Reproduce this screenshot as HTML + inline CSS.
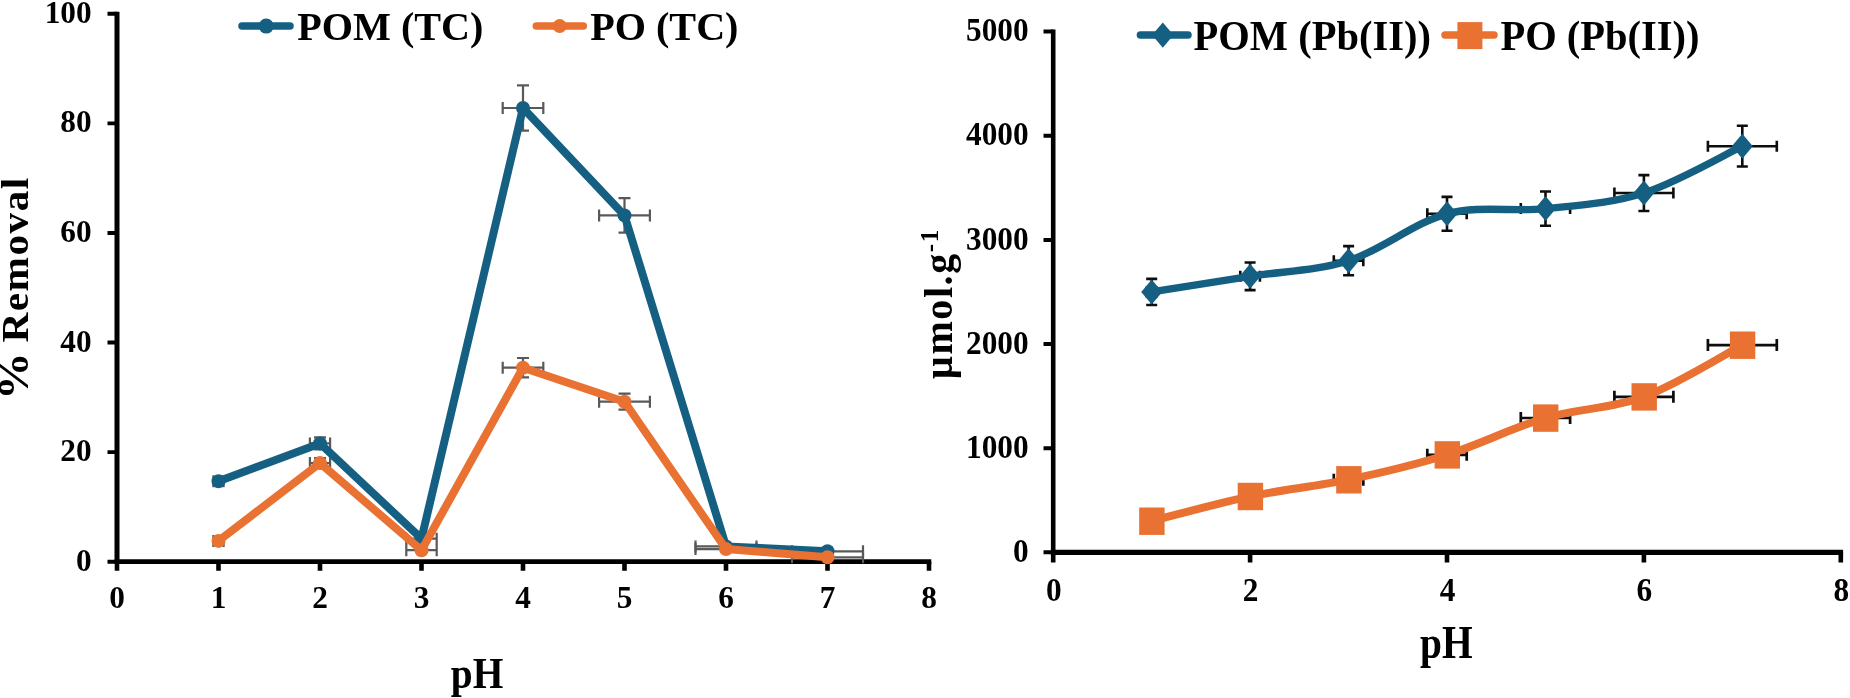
<!DOCTYPE html>
<html lang="en"><head><meta charset="utf-8"><title>Effect of pH</title>
<style>
html,body{margin:0;padding:0;background:#fff;}
body{width:1850px;height:698px;overflow:hidden;}
svg{display:block;filter:blur(0.4px);}
text{font-family:"Liberation Serif","Times New Roman",serif;font-weight:bold;fill:#000;}
.tk{font-size:31.3px;}
.lgL{font-size:40.15px;}
.lgR{font-size:40.5px;}
.ttl{font-size:39.4px;}
</style></head><body>
<svg width="1850" height="698" viewBox="0 0 1850 698">
<rect width="1850" height="698" fill="#fff"/>
<g id="left">
<path d="M117.0 11.8V564.1" stroke="#000" stroke-width="5" fill="none"/>
<path d="M114.7 561.7H931.3" stroke="#000" stroke-width="4.8" fill="none"/>
<path d="M107.5 561.7H117.0M107.5 452.1H117.0M107.5 342.5H117.0M107.5 233.0H117.0M107.5 123.4H117.0M107.5 13.8H117.0" stroke="#000" stroke-width="3.9" fill="none"/>
<path d="M117.0 561.7V570.8M218.5 561.7V570.8M320.0 561.7V570.8M421.5 561.7V570.8M523.0 561.7V570.8M624.5 561.7V570.8M726.0 561.7V570.8M827.5 561.7V570.8M929.0 561.7V570.8" stroke="#000" stroke-width="4.6" fill="none"/>
<path d="M213.4 481.2H223.6M213.4 475.2V487.2M223.6 475.2V487.2M218.5 477.1V485.2M212.5 477.1H224.5M212.5 485.2H224.5M309.9 443.4H330.1M309.9 437.4V449.4M330.1 437.4V449.4M320.0 437.4V449.3M314.0 437.4H326.0M314.0 449.3H326.0M406.3 538.7H436.7M406.3 532.7V544.7M436.7 532.7V544.7M421.5 537.5V539.8M415.5 537.5H427.5M415.5 539.8H427.5M502.7 108.0H543.3M502.7 102.0V114.0M543.3 102.0V114.0M523.0 85.4V130.7M517.0 85.4H529.0M517.0 130.7H529.0M599.1 215.4H649.9M599.1 209.4V221.4M649.9 209.4V221.4M624.5 198.1V232.7M618.5 198.1H630.5M618.5 232.7H630.5M695.5 546.4H756.5M695.5 540.4V552.4M756.5 540.4V552.4M726.0 545.6V547.1M720.0 545.6H732.0M720.0 547.1H732.0M792.0 551.3H863.0M792.0 545.3V557.3M863.0 545.3V557.3M827.5 550.8V551.8M821.5 550.8H833.5M821.5 551.8H833.5" fill="none" stroke="#595959" stroke-width="2.2"/>
<path d="M213.4 540.9H223.6M213.4 534.9V546.9M223.6 534.9V546.9M218.5 539.8V541.9M212.5 539.8H224.5M212.5 541.9H224.5M309.9 463.1H330.1M309.9 457.1V469.1M330.1 457.1V469.1M320.0 458.1V468.0M314.0 458.1H326.0M314.0 468.0H326.0M406.3 550.2H436.7M406.3 544.2V556.2M436.7 544.2V556.2M421.5 549.6V550.8M415.5 549.6H427.5M415.5 550.8H427.5M502.7 367.7H543.3M502.7 361.7V373.7M543.3 361.7V373.7M523.0 358.0V377.4M517.0 358.0H529.0M517.0 377.4H529.0M599.1 401.7H649.9M599.1 395.7V407.7M649.9 395.7V407.7M624.5 393.7V409.7M618.5 393.7H630.5M618.5 409.7H630.5M695.5 549.1H756.5M695.5 543.1V555.1M756.5 543.1V555.1M726.0 548.5V549.7M720.0 548.5H732.0M720.0 549.7H732.0M792.0 557.3H863.0M792.0 551.3V563.3M863.0 551.3V563.3M827.5 557.1V557.5M821.5 557.1H833.5M821.5 557.5H833.5" fill="none" stroke="#595959" stroke-width="2.2"/>
<path d="M218.5 481.2 L320.0 443.4 L421.5 538.7 L523.0 108.0 L624.5 215.4 L726.0 546.4 L827.5 551.3" fill="none" stroke="#156082" stroke-width="8" stroke-linejoin="round" stroke-linecap="round"/>
<circle cx="218.5" cy="481.2" r="7" fill="#156082"/>
<circle cx="320.0" cy="443.4" r="7" fill="#156082"/>
<circle cx="421.5" cy="538.7" r="7" fill="#156082"/>
<circle cx="523.0" cy="108.0" r="7" fill="#156082"/>
<circle cx="624.5" cy="215.4" r="7" fill="#156082"/>
<circle cx="726.0" cy="546.4" r="7" fill="#156082"/>
<circle cx="827.5" cy="551.3" r="7" fill="#156082"/>
<path d="M218.5 540.9 L320.0 463.1 L421.5 550.2 L523.0 367.7 L624.5 401.7 L726.0 549.1 L827.5 557.3" fill="none" stroke="#E97132" stroke-width="8" stroke-linejoin="round" stroke-linecap="round"/>
<circle cx="218.5" cy="540.9" r="7" fill="#E97132"/>
<circle cx="320.0" cy="463.1" r="7" fill="#E97132"/>
<circle cx="421.5" cy="550.2" r="7" fill="#E97132"/>
<circle cx="523.0" cy="367.7" r="7" fill="#E97132"/>
<circle cx="624.5" cy="401.7" r="7" fill="#E97132"/>
<circle cx="726.0" cy="549.1" r="7" fill="#E97132"/>
<circle cx="827.5" cy="557.3" r="7" fill="#E97132"/>
<text class="tk" transform="translate(91.6 570.7) scale(1 1.03)" text-anchor="end">0</text>
<text class="tk" transform="translate(91.6 461.1) scale(1 1.03)" text-anchor="end">20</text>
<text class="tk" transform="translate(91.6 351.5) scale(1 1.03)" text-anchor="end">40</text>
<text class="tk" transform="translate(91.6 242.0) scale(1 1.03)" text-anchor="end">60</text>
<text class="tk" transform="translate(91.6 132.4) scale(1 1.03)" text-anchor="end">80</text>
<text class="tk" transform="translate(91.6 22.8) scale(1 1.03)" text-anchor="end">100</text>
<text class="tk" transform="translate(117.0 608.4) scale(1 1.03)" text-anchor="middle">0</text>
<text class="tk" transform="translate(218.5 608.4) scale(1 1.03)" text-anchor="middle">1</text>
<text class="tk" transform="translate(320.0 608.4) scale(1 1.03)" text-anchor="middle">2</text>
<text class="tk" transform="translate(421.5 608.4) scale(1 1.03)" text-anchor="middle">3</text>
<text class="tk" transform="translate(523.0 608.4) scale(1 1.03)" text-anchor="middle">4</text>
<text class="tk" transform="translate(624.5 608.4) scale(1 1.03)" text-anchor="middle">5</text>
<text class="tk" transform="translate(726.0 608.4) scale(1 1.03)" text-anchor="middle">6</text>
<text class="tk" transform="translate(827.5 608.4) scale(1 1.03)" text-anchor="middle">7</text>
<text class="tk" transform="translate(929.0 608.4) scale(1 1.03)" text-anchor="middle">8</text>
<path d="M242 26.1H290" stroke="#156082" stroke-width="7.5" stroke-linecap="round"/><circle cx="266.2" cy="26.1" r="7.5" fill="#156082"/>
<text class="lgL" transform="translate(297.3 40.2) scale(1 1.02)">POM (TC)</text>
<path d="M536.3 26.1H583.3" stroke="#E97132" stroke-width="7.5" stroke-linecap="round"/><circle cx="559.7" cy="26.1" r="7" fill="#E97132"/>
<text class="lgL" transform="translate(590.2 40.2) scale(1 1.02)">PO (TC)</text>
<text class="ttl" transform="translate(477 688.2) scale(1 1.14)" text-anchor="middle">pH</text>
<text class="ttl" transform="translate(27.6 400.1) rotate(-90) scale(1.085 1)" style="font-size:38px;letter-spacing:1.4px"><tspan style="font-size:44px">%</tspan><tspan dx="-3.2"> Removal</tspan></text>
</g>
<g id="right">
<path d="M1053.2 29.6V554.6999999999999" stroke="#000" stroke-width="4.6" fill="none"/>
<path d="M1050.9 552.3H1843.1000000000001" stroke="#000" stroke-width="5.3" fill="none"/>
<path d="M1043.5 552.3H1053.2M1043.5 448.2H1053.2M1043.5 344.0H1053.2M1043.5 239.9H1053.2M1043.5 135.7H1053.2M1043.5 31.6H1053.2" stroke="#000" stroke-width="4" fill="none"/>
<path d="M1053.2 552.3V562.6M1250.1 552.3V562.6M1447.0 552.3V562.6M1643.9 552.3V562.6M1840.8 552.3V562.6" stroke="#000" stroke-width="4.6" fill="none"/>
<path d="M1146.7 291.9H1156.6M1146.7 286.4V297.4M1156.6 286.4V297.4M1151.7 278.9V305.0M1146.2 278.9H1157.2M1146.2 305.0H1157.2M1240.3 276.3H1259.9M1240.3 270.8V281.8M1259.9 270.8V281.8M1250.1 262.5V290.1M1244.6 262.5H1255.6M1244.6 290.1H1255.6M1333.8 260.7H1363.3M1333.8 255.2V266.2M1363.3 255.2V266.2M1348.6 246.1V275.3M1343.1 246.1H1354.1M1343.1 275.3H1354.1M1427.3 213.8H1466.7M1427.3 208.3V219.3M1466.7 208.3V219.3M1447.0 196.9V230.8M1441.5 196.9H1452.5M1441.5 230.8H1452.5M1520.8 208.6H1570.1M1520.8 203.1V214.1M1570.1 203.1V214.1M1545.5 191.5V225.8M1540.0 191.5H1551.0M1540.0 225.8H1551.0M1614.4 193.0H1673.4M1614.4 187.5V198.5M1673.4 187.5V198.5M1643.9 175.1V211.0M1638.4 175.1H1649.4M1638.4 211.0H1649.4M1707.9 146.2H1776.8M1707.9 140.7V151.7M1776.8 140.7V151.7M1742.3 125.8V166.5M1736.8 125.8H1747.8M1736.8 166.5H1747.8" fill="none" stroke="#0d0d0d" stroke-width="2.6"/>
<path d="M1151.7 291.9C1168.1 289.3 1217.3 281.5 1250.1 276.3C1282.9 271.1 1315.7 271.1 1348.6 260.7C1381.4 250.3 1414.2 222.5 1447.0 213.8C1479.8 205.2 1512.6 212.1 1545.5 208.6C1578.3 205.2 1611.1 203.4 1643.9 193.0C1676.7 182.6 1725.9 154.0 1742.3 146.2" fill="none" stroke="#156082" stroke-width="7.4" stroke-linejoin="round" stroke-linecap="round"/>
<path d="M1141.2 291.9L1151.7 279.4L1162.2 291.9L1151.7 304.4Z" fill="#156082"/>
<path d="M1239.6 276.3L1250.1 263.8L1260.6 276.3L1250.1 288.8Z" fill="#156082"/>
<path d="M1338.1 260.7L1348.6 248.2L1359.1 260.7L1348.6 273.2Z" fill="#156082"/>
<path d="M1436.5 213.8L1447.0 201.3L1457.5 213.8L1447.0 226.3Z" fill="#156082"/>
<path d="M1535.0 208.6L1545.5 196.1L1556.0 208.6L1545.5 221.1Z" fill="#156082"/>
<path d="M1633.4 193.0L1643.9 180.5L1654.4 193.0L1643.9 205.5Z" fill="#156082"/>
<path d="M1731.8 146.2L1742.3 133.7L1752.8 146.2L1742.3 158.7Z" fill="#156082"/>
<path d="M1146.7 521.1H1156.6M1146.7 515.1V527.1M1156.6 515.1V527.1M1151.7 519.5V522.6M1145.7 519.5H1157.7M1145.7 522.6H1157.7M1240.3 496.4H1259.9M1240.3 490.4V502.4M1259.9 490.4V502.4M1250.1 493.6V499.2M1244.1 493.6H1256.1M1244.1 499.2H1256.1M1333.8 479.7H1363.3M1333.8 473.7V485.7M1363.3 473.7V485.7M1348.6 476.1V483.3M1342.6 476.1H1354.6M1342.6 483.3H1354.6M1427.3 454.8H1466.7M1427.3 448.8V460.8M1466.7 448.8V460.8M1447.0 450.0V459.7M1441.0 450.0H1453.0M1441.0 459.7H1453.0M1520.8 418.0H1570.1M1520.8 412.0V424.0M1570.1 412.0V424.0M1545.5 411.2V424.7M1539.5 411.2H1551.5M1539.5 424.7H1551.5M1614.4 396.8H1673.4M1614.4 390.8V402.8M1673.4 390.8V402.8M1643.9 389.0V404.6M1637.9 389.0H1649.9M1637.9 404.6H1649.9M1707.9 345.1H1776.8M1707.9 339.1V351.1M1776.8 339.1V351.1M1742.3 334.7V355.4M1736.3 334.7H1748.3M1736.3 355.4H1748.3" fill="none" stroke="#0d0d0d" stroke-width="2.7"/>
<path d="M1151.7 521.1C1168.1 516.9 1217.3 503.3 1250.1 496.4C1282.9 489.5 1315.7 486.6 1348.6 479.7C1381.4 472.8 1414.2 465.1 1447.0 454.8C1479.8 444.5 1512.6 427.6 1545.5 418.0C1578.3 408.3 1611.1 409.0 1643.9 396.8C1676.7 384.7 1725.9 353.7 1742.3 345.1" fill="none" stroke="#E97132" stroke-width="8" stroke-linejoin="round" stroke-linecap="round"/>
<rect x="1139.2" y="507.5" width="25.4" height="27.4" fill="#E97132"/>
<rect x="1237.7" y="482.8" width="25.4" height="27.4" fill="#E97132"/>
<rect x="1336.2" y="466.1" width="25.4" height="27.4" fill="#E97132"/>
<rect x="1434.6" y="441.2" width="25.4" height="27.4" fill="#E97132"/>
<rect x="1533.0" y="404.4" width="25.4" height="27.4" fill="#E97132"/>
<rect x="1631.5" y="383.2" width="25.4" height="27.4" fill="#E97132"/>
<rect x="1729.9" y="331.5" width="25.4" height="27.4" fill="#E97132"/>
<text class="tk" transform="translate(1028.6 561.9) scale(1 1.07)" text-anchor="end">0</text>
<text class="tk" transform="translate(1028.6 457.8) scale(1 1.07)" text-anchor="end">1000</text>
<text class="tk" transform="translate(1028.6 353.6) scale(1 1.07)" text-anchor="end">2000</text>
<text class="tk" transform="translate(1028.6 249.5) scale(1 1.07)" text-anchor="end">3000</text>
<text class="tk" transform="translate(1028.6 145.3) scale(1 1.07)" text-anchor="end">4000</text>
<text class="tk" transform="translate(1028.6 41.2) scale(1 1.07)" text-anchor="end">5000</text>
<text class="tk" transform="translate(1053.7 601.4) scale(1 1.07)" text-anchor="middle">0</text>
<text class="tk" transform="translate(1250.6 601.4) scale(1 1.07)" text-anchor="middle">2</text>
<text class="tk" transform="translate(1447.5 601.4) scale(1 1.07)" text-anchor="middle">4</text>
<text class="tk" transform="translate(1644.4 601.4) scale(1 1.07)" text-anchor="middle">6</text>
<text class="tk" transform="translate(1841.3 601.4) scale(1 1.07)" text-anchor="middle">8</text>
<path d="M1140.4 35.1H1188" stroke="#156082" stroke-width="7.5" stroke-linecap="round"/>
<path d="M1152.1 35.1L1162.8 22.4L1173.5 35.1L1162.8 47.8Z" fill="#156082"/>
<text class="lgR" transform="translate(1193.6 50.3) scale(1 1.03)">POM (Pb(II))</text>
<path d="M1445 35.1H1494" stroke="#E97132" stroke-width="7.5" stroke-linecap="round"/>
<rect x="1457.4" y="22.1" width="25" height="27" fill="#E97132"/>
<text class="lgR" transform="translate(1500.4 50.3) scale(1 1.03)">PO (Pb(II))</text>
<text class="ttl" transform="translate(1446.3 658.4) scale(1 1.16)" text-anchor="middle">pH</text>
<text class="ttl" style="font-size:40px;letter-spacing:1.6px" transform="translate(951.8 378.9) rotate(-90)">μmol.g<tspan dy="-14" style="font-size:25px;letter-spacing:1.5px">-1</tspan></text>
</g>
</svg>
</body></html>
